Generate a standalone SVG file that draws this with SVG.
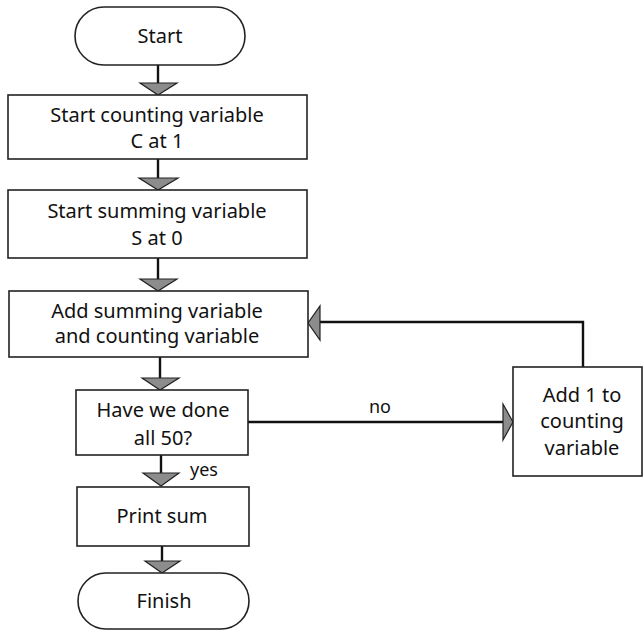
<svg xmlns="http://www.w3.org/2000/svg" width="644" height="631" viewBox="0 0 644 631">
<style>
.box{fill:#fff;stroke:#222;stroke-width:1.6}
.ln{fill:none;stroke:#111;stroke-width:2.4}
.ah{fill:#8c8c8c;stroke:#222;stroke-width:1.2;stroke-linejoin:miter}
text{font-family:"Noto Sans","Open Sans",sans-serif;font-size:20px;fill:#111;text-anchor:middle}
.lbl{font-size:18px}
</style>
<rect width="644" height="631" fill="#fff"/>
<g id="connectors">
<line class="ln" x1="158" y1="65" x2="158" y2="84"/>
<polygon class="ah" points="140,83 177,83 158,95"/>
<line class="ln" x1="158" y1="159" x2="158" y2="179"/>
<polygon class="ah" points="139,178 178,178 158,190"/>
<line class="ln" x1="158" y1="258" x2="158" y2="280"/>
<polygon class="ah" points="140,279 177,279 158,291"/>
<line class="ln" x1="160" y1="357" x2="160" y2="379"/>
<polygon class="ah" points="142,378 179,378 160,390"/>
<line class="ln" x1="161" y1="455" x2="161" y2="474"/>
<polygon class="ah" points="143,473 179,473 161,486"/>
<line class="ln" x1="162" y1="546" x2="162" y2="562"/>
<polygon class="ah" points="145,561 180,561 162,573"/>
<line class="ln" x1="248" y1="422" x2="503" y2="422"/>
<polygon class="ah" points="503,404 503,440 513,422"/>
<text class="lbl" x="380" y="413">no</text>
<text class="lbl" x="204" y="476">yes</text>
<polyline class="ln" points="583,367 583,322 320,322"/>
<polygon class="ah" points="320,306 320,340 308,323"/>
</g>
<g id="start">
<rect class="box" x="75" y="7" width="170" height="58" rx="29" ry="29"/>
<text x="160" y="43">Start</text>
</g>
<g id="initC">
<rect class="box" x="8" y="95" width="299" height="64"/>
<text x="157" y="122">Start counting variable</text>
<text x="157" y="148">C at 1</text>
</g>
<g id="initS">
<rect class="box" x="8" y="190" width="299" height="68"/>
<text x="157" y="218">Start summing variable</text>
<text x="157" y="245">S at 0</text>
</g>
<g id="add">
<rect class="box" x="9" y="291" width="299" height="66"/>
<text x="157" y="318">Add summing variable</text>
<text x="157" y="343">and counting variable</text>
</g>
<g id="decision">
<rect class="box" x="76" y="390" width="172" height="65"/>
<text x="163" y="417">Have we done</text>
<text x="163" y="445">all 50?</text>
</g>
<g id="print">
<rect class="box" x="77" y="487" width="172" height="59"/>
<text x="162" y="523">Print sum</text>
</g>
<g id="finish">
<rect class="box" x="78" y="573" width="171" height="56" rx="28" ry="28"/>
<text x="164" y="608">Finish</text>
</g>
<g id="increment">
<rect class="box" x="513" y="367" width="129" height="109"/>
<text x="582" y="402">Add 1 to</text>
<text x="582" y="428">counting</text>
<text x="582" y="455">variable</text>
</g>
</svg>
